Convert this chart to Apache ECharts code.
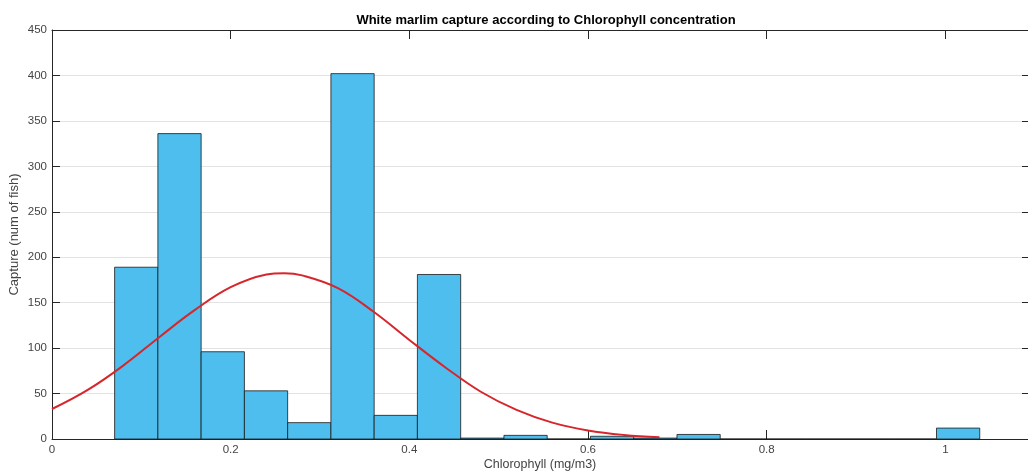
<!DOCTYPE html>
<html>
<head>
<meta charset="utf-8">
<script src="https://cdn.jsdelivr.net/npm/echarts@6/dist/echarts.min.js"></script>
<style>html,body{margin:0;padding:0;background:#fff;}#c{width:1028px;height:474px;}</style>
</head>
<body>
<div id="c"></div>
<script>
// Histogram (20 bins) of capture by chlorophyll concentration
const binStart = 0.0701;
const binWidth = 0.04842;
const counts = [189, 336, 96, 53, 18, 402, 26, 181, 1, 4, 0, 3, 1, 5, 0, 0, 0, 0, 0, 12];
// Fitted normal curve
const curveX = [0, 0.04, 0.08, 0.12, 0.16, 0.20, 0.24, 0.26, 0.28, 0.32, 0.36, 0.40, 0.44, 0.48, 0.52, 0.56, 0.60, 0.64, 0.68];
const curveY = [33, 54, 81, 112, 142, 167, 181, 182.5, 180, 166, 140, 109, 79, 52, 32, 18, 9.4, 4.5, 2];
const xTicks = [0, 0.2, 0.4, 0.6, 0.8, 1];
const titleText = 'White marlim capture according to Chlorophyll concentration';
const xName = 'Chlorophyll (mg/m3)';
const yName = 'Capture (num of fish)';

const histData = counts.map((c, i) => [binStart + i * binWidth, binStart + (i + 1) * binWidth, c]);
const curveData = curveX.map((x, i) => [x, curveY[i]]);

const FONT = 'Liberation Sans, Arial, Helvetica, sans-serif';
const AX = '#262626';
const LBL = '#444';

const chart = echarts.init(document.getElementById('c'), null, {renderer: 'canvas'});
chart.setOption({
  animation: false,
  backgroundColor: '#fff',
  title: {
    text: titleText, left: 541, top: 9, textAlign: 'center',
    textStyle: {fontFamily: FONT, fontSize: 13, fontWeight: 'bold', color: '#000'}
  },
  grid: {left: 52, right: 0, top: 30, bottom: 35, containLabel: false, outerBoundsMode: 'none'},
  xAxis: [{
    type: 'value', min: 0, max: 1.0925, position: 'bottom',
    name: xName, nameLocation: 'middle', nameGap: 19, nameMoveOverlap: false,
    nameTextStyle: {fontFamily: FONT, fontSize: 12.5, color: LBL},
    axisLine: {show: true, onZero: false, lineStyle: {color: AX, width: 1}},
    axisTick: {show: true, inside: true, length: 9, customValues: xTicks, lineStyle: {color: AX}},
    axisLabel: {show: true, customValues: xTicks, margin: 5, fontFamily: FONT, fontSize: 11.5, color: LBL},
    splitLine: {show: false}
  }, {
    type: 'value', min: 0, max: 1.0925, position: 'top',
    axisLine: {show: true, onZero: false, lineStyle: {color: AX, width: 1}},
    axisTick: {show: true, inside: true, length: 9, customValues: xTicks, lineStyle: {color: AX}},
    axisLabel: {show: false},
    splitLine: {show: false}
  }],
  yAxis: [{
    type: 'value', min: 0, max: 450, interval: 50, position: 'left',
    name: yName, nameLocation: 'middle', nameGap: 31, nameRotate: 90, nameMoveOverlap: false,
    nameTextStyle: {fontFamily: FONT, fontSize: 13, color: LBL},
    axisLine: {show: true, onZero: false, lineStyle: {color: AX, width: 1}},
    axisTick: {show: true, inside: true, length: 8, lineStyle: {color: AX}},
    axisLabel: {show: true, margin: 5, fontFamily: FONT, fontSize: 11.5, color: LBL},
    splitLine: {show: true, lineStyle: {color: '#e3e3e3', width: 1}}
  }, {
    type: 'value', min: 0, max: 450, interval: 50, position: 'right',
    axisLine: {show: false, onZero: false},
    axisTick: {show: true, inside: true, length: 6, lineStyle: {color: AX}},
    axisLabel: {show: false},
    splitLine: {show: false}
  }],
  series: [{
    type: 'custom',
    xAxisIndex: 0, yAxisIndex: 0,
    data: histData,
    encode: {x: [0, 1], y: 2},
    z: 3,
    renderItem: function (params, api) {
      const p0 = api.coord([api.value(0), api.value(2)]);
      const p1 = api.coord([api.value(1), 0]);
      return {
        type: 'rect',
        shape: {x: p0[0], y: p0[1], width: p1[0] - p0[0], height: p1[1] - p0[1]},
        style: {fill: '#4DBEEE', stroke: '#1a1a1a', lineWidth: 0.8}
      };
    }
  }, {
    type: 'line',
    xAxisIndex: 0, yAxisIndex: 0,
    data: curveData,
    smooth: 0.4,
    showSymbol: false,
    z: 5,
    lineStyle: {color: '#D7262B', width: 2}
  }]
});
</script>
</body>
</html>
